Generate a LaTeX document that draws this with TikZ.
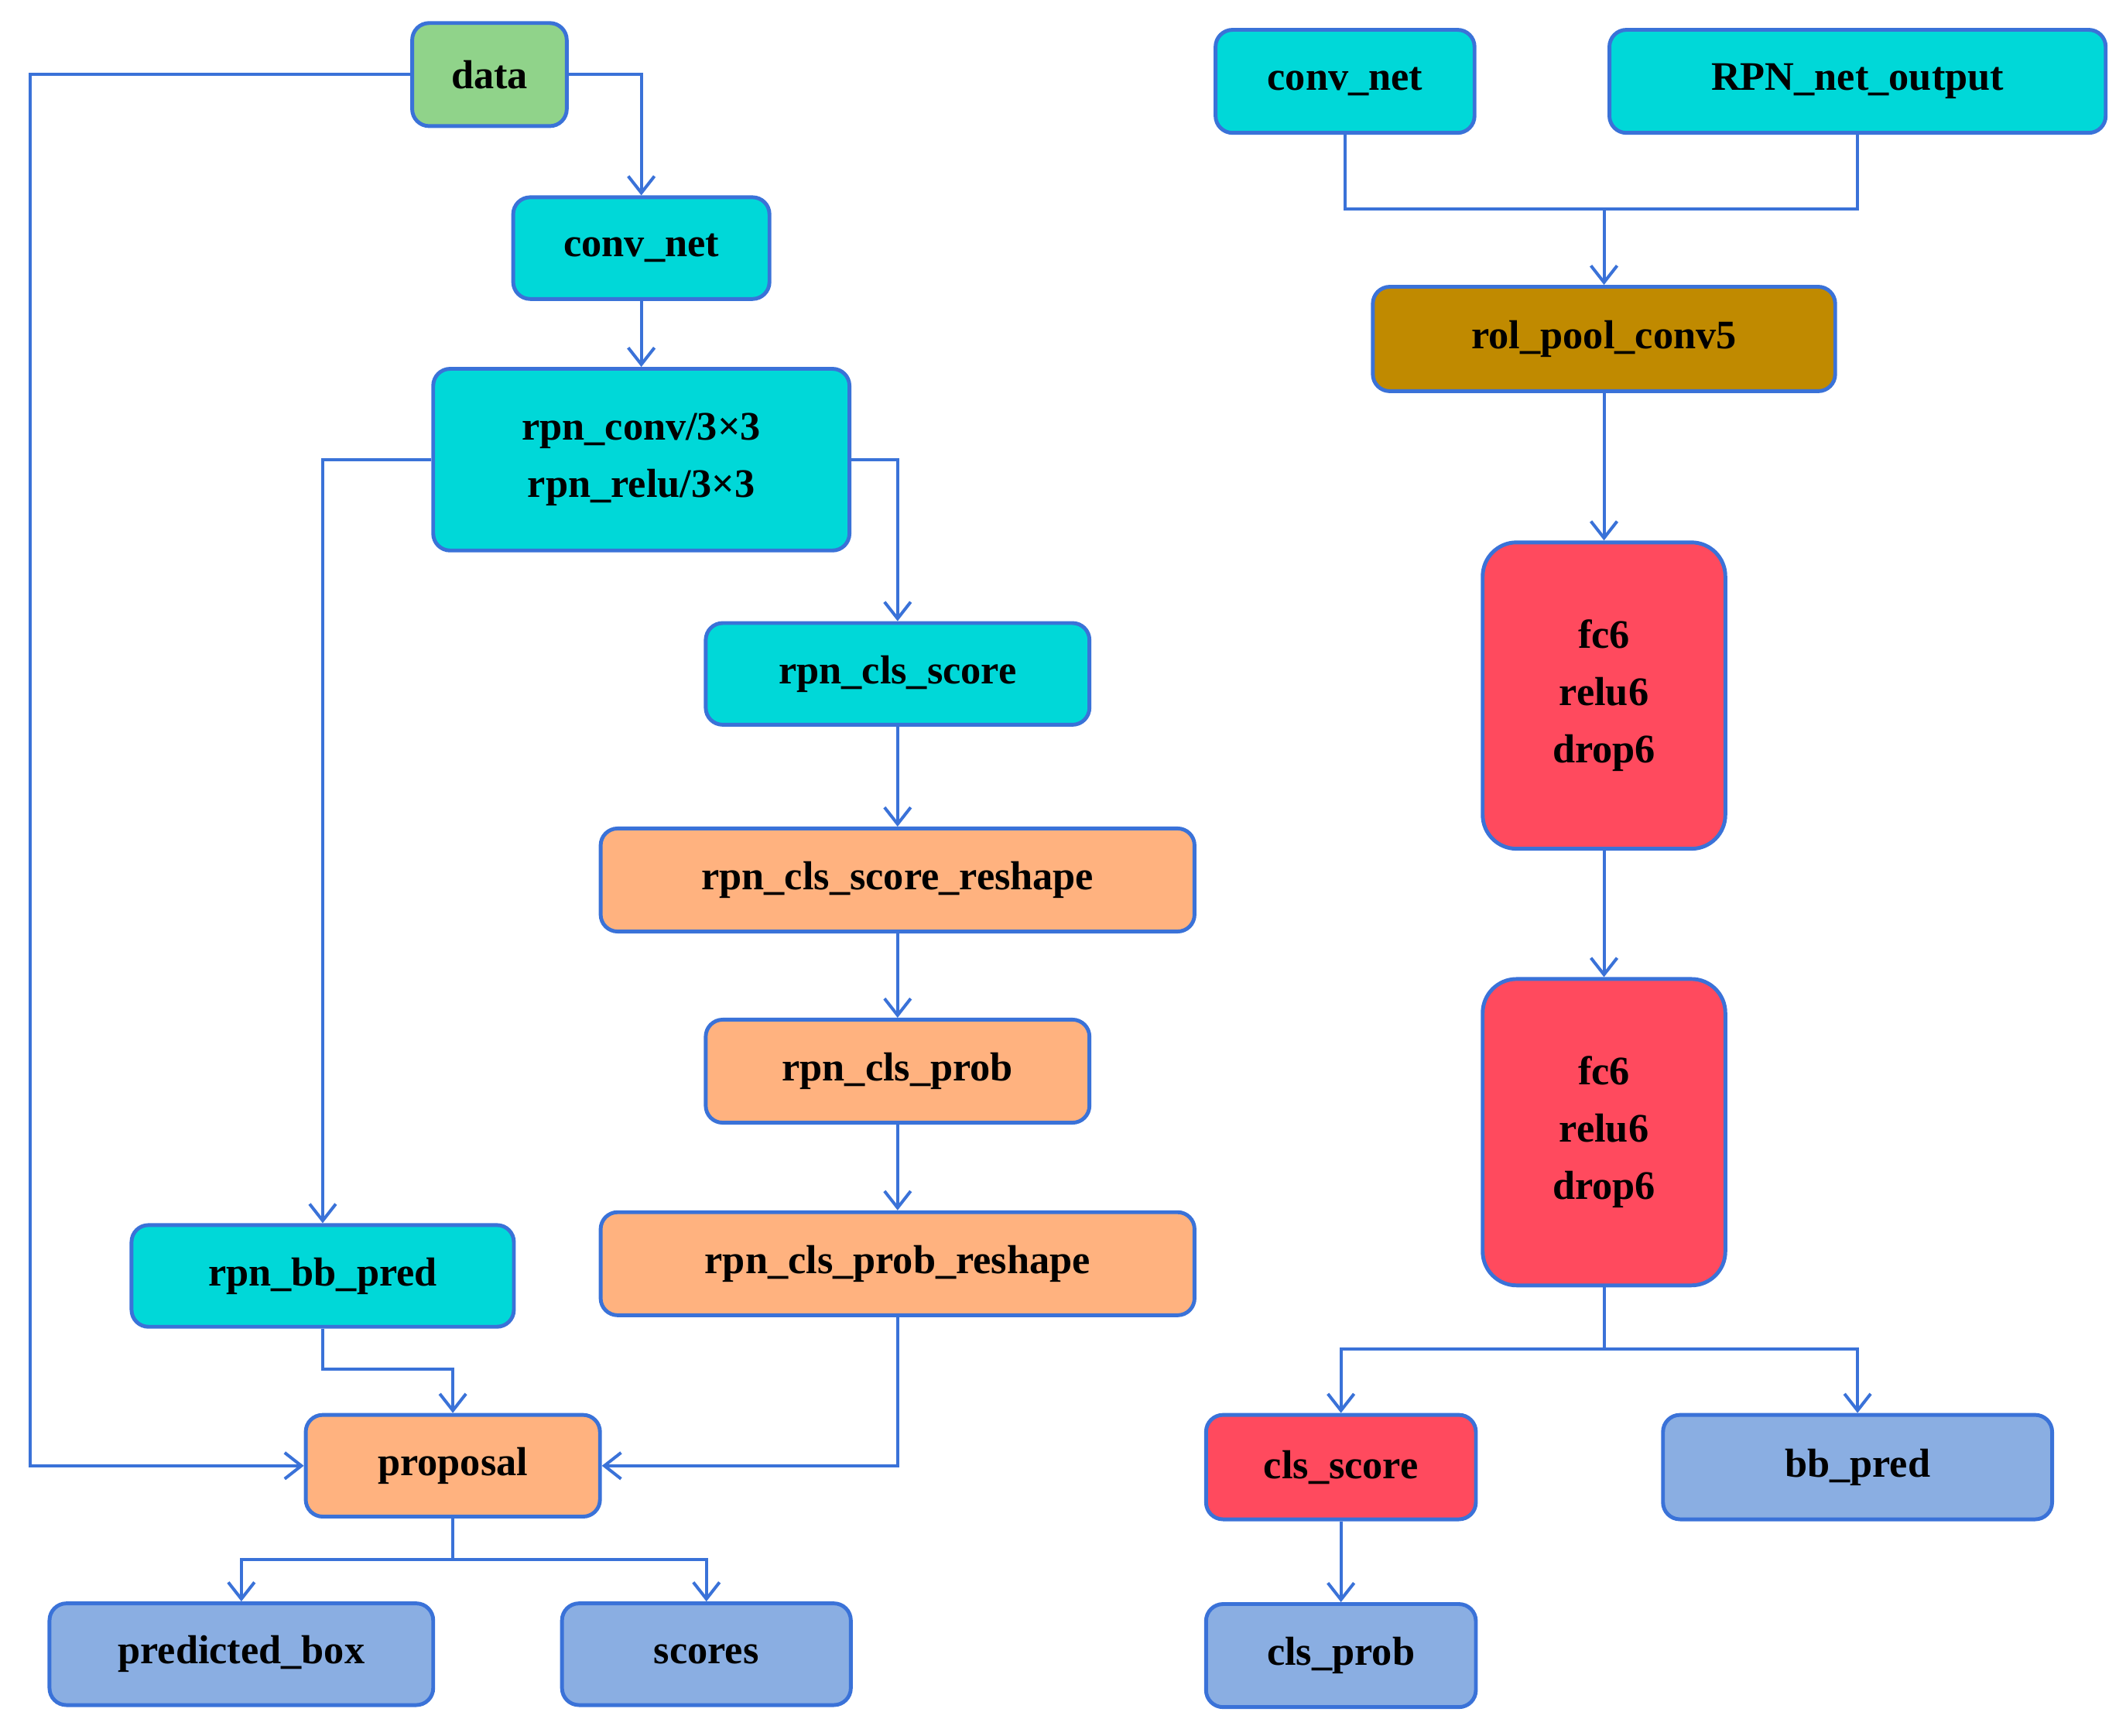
\documentclass[tikz,border=0pt]{standalone}
\usepackage{fontspec}
\setmainfont{Liberation Serif}
\usetikzlibrary{arrows.meta}
\definecolor{edge}{HTML}{3A72D8}
\definecolor{cy}{HTML}{00D8D8}
\definecolor{gr}{HTML}{90D38A}
\definecolor{orr}{HTML}{FFB27F}
\definecolor{bl}{HTML}{8AAEE2}
\definecolor{rd}{HTML}{FF4A5E}
\definecolor{gd}{HTML}{C08A00}
\begin{document}
\begin{tikzpicture}[x=0.02cm,y=-0.02cm,
 box/.style={draw=edge,line width=1.6pt,rounded corners=0.25cm,align=center,inner sep=0pt,
   font=\fontsize{17}{24}\selectfont\bfseries},
 ar/.style={draw=edge,line width=1.3pt,-{Straight Barb[length=7pt,width=11pt]}},
 ln/.style={draw=edge,line width=1.3pt}]
\useasboundingbox (0,0) rectangle (1568,1280);
\newcommand{\bx}[7]{\node[box,fill=#6,minimum width=#4*0.02cm,minimum height=#5*0.02cm] (#1) at (#2,#3) {#7};}
\bx{data}{361}{55}{114}{76}{gr}{data}
\bx{cnl}{473}{183}{189}{75}{cy}{conv\_net}
\bx{rpc}{473}{339}{307}{134}{cy}{rpn\_conv/3×3\\rpn\_relu/3×3}
\bx{rcs}{662}{497}{283}{75}{cy}{rpn\_cls\_score}
\bx{rcsr}{662}{649}{438}{76}{orr}{rpn\_cls\_score\_reshape}
\bx{rcp}{662}{790}{283}{76}{orr}{rpn\_cls\_prob}
\bx{rcpr}{662}{932}{438}{76}{orr}{rpn\_cls\_prob\_reshape}
\bx{rbb}{238}{941}{282}{75}{cy}{rpn\_bb\_pred}
\bx{prop}{334}{1081}{217}{75}{orr}{proposal}
\bx{pb}{178}{1220}{283}{75}{bl}{predicted\_box}
\bx{sc}{521}{1220}{213}{75}{bl}{scores}
\bx{cnr}{992}{60}{191}{76}{cy}{conv\_net}
\bx{rno}{1370}{60}{366}{76}{cy}{RPN\_net\_output}
\bx{rol}{1183}{250}{341}{77}{gd}{rol\_pool\_conv5}
\node[box,fill=rd,rounded corners=0.5cm,minimum width=3.58cm,minimum height=4.52cm] (fa) at (1183,513) {fc6\\relu6\\drop6};
\node[box,fill=rd,rounded corners=0.5cm,minimum width=3.58cm,minimum height=4.52cm] (fb) at (1183,835) {fc6\\relu6\\drop6};
\bx{cs}{989}{1082}{199}{77}{rd}{cls\_score}
\bx{bbp}{1370}{1082}{287}{77}{bl}{bb\_pred}
\bx{cp}{989}{1221}{199}{76}{bl}{cls\_prob}
\coordinate (j1) at (1183,154);
\coordinate (j2) at (1183,995);
\coordinate (j3) at (334,1150);
\draw[ar] (data.east) -| (cnl.north);
\draw[ar] (data.west) -- (22,55) |- (prop.west);
\draw[ar] (cnl) -- (rpc);
\draw[ar] (rpc.west) -| (rbb.north);
\draw[ar] (rpc.east) -| (rcs.north);
\draw[ar] (rcs) -- (rcsr);
\draw[ar] (rcsr) -- (rcp);
\draw[ar] (rcp) -- (rcpr);
\draw[ar] (rcpr.south) |- (prop.east);
\draw[ar] (rbb.south) |- (286,1010) -| (prop.north);
\draw[ln] (prop.south) -- (j3);
\draw[ar] (j3) -| (pb.north);
\draw[ar] (j3) -| (sc.north);
\draw[ln] (cnr.south) |- (j1);
\draw[ln] (rno.south) |- (j1);
\draw[ar] (j1) -- (rol);
\draw[ar] (rol) -- (fa);
\draw[ar] (fa) -- (fb);
\draw[ln] (fb.south) -- (j2);
\draw[ar] (j2) -| (cs.north);
\draw[ar] (j2) -| (bbp.north);
\draw[ar] (cs) -- (cp);
\end{tikzpicture}
\end{document}
